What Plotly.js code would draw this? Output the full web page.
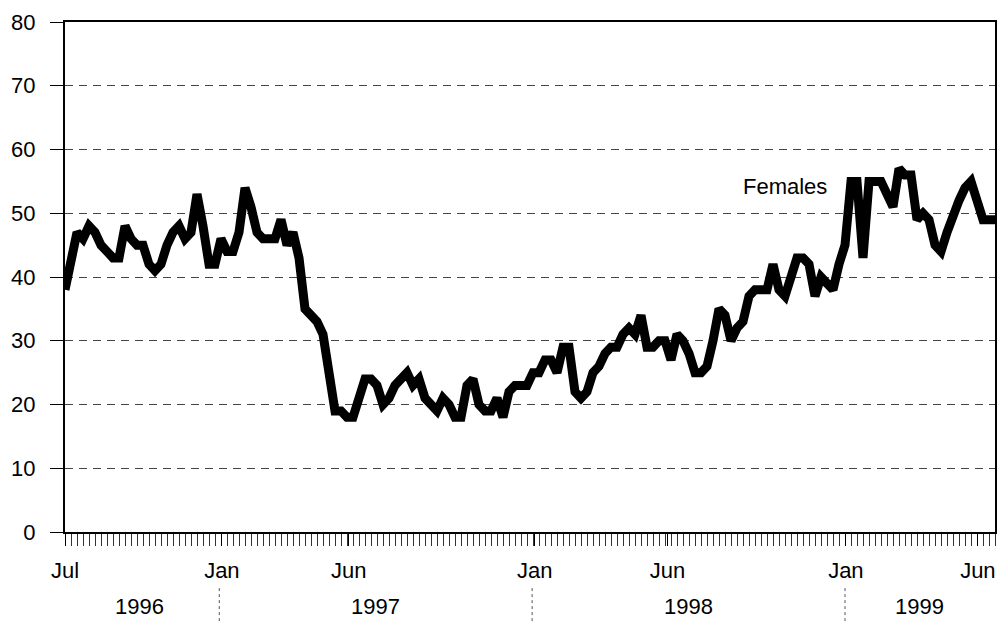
<!DOCTYPE html>
<html>
<head>
<meta charset="utf-8">
<script src="https://cdn.plot.ly/plotly-3.0.1.min.js"></script>
<style>
  html, body { margin: 0; padding: 0; background: #fff; }
  #chart { width: 1002px; height: 622px; }
</style>
</head>
<body>
<div id="chart"></div>
<script>
// Weekly series, first week ending 1996-07-05
const firstWeek = '1996-07-05';
const females = [
  38, 43, 47, 46, 48, 47, 45, 44, 43, 43,
  48, 46, 45, 45, 42, 41, 42, 45, 47, 48,
  46, 47, 53, 48, 42, 42, 46, 44, 44, 47,
  54, 51, 47, 46, 46, 46, 49, 45, 47, 43,
  35, 34, 33, 31, 25, 19, 19, 18, 18, 21,
  24, 24, 23, 20, 21, 23, 24, 25, 23, 24,
  21, 20, 19, 21, 20, 18, 18, 23, 24, 20,
  19, 19, 21, 18, 22, 23, 23, 23, 25, 25,
  27, 27, 25, 29, 29, 22, 21, 22, 25, 26,
  28, 29, 29, 31, 32, 31, 34, 29, 29, 30,
  30, 27, 31, 30, 28, 25, 25, 26, 30, 35,
  34, 30, 32, 33, 37, 38, 38, 38, 42, 38,
  37, 40, 43, 43, 42, 37, 40, 39, 38, 42,
  45, 55, 55, 43, 55, 55, 55, 53, 51, 57,
  56, 56, 49, 50, 49, 45, 44, 47, 50, 52,
  54, 55, 52, 49, 49, 49
];
const seriesName = 'Females';

const monthTickDates = ['1996-07-05', '1997-01-04', '1997-06-01', '1998-01-04', '1998-06-08', '1999-01-02', '1999-06-05'];
const monthTickLabels = ['Jul', 'Jan', 'Jun', 'Jan', 'Jun', 'Jan', 'Jun'];
const yearLabels = ['1996', '1997', '1998', '1999'];
const yearCenters = ['1996-09-30', '1997-07-02', '1998-07-02', '1999-03-29'];
const yearBoundaries = ['1997-01-01', '1998-01-01', '1999-01-01'];

const WEEK_MS = 7 * 24 * 3600 * 1000;
const FONT = 'Liberation Sans, Arial, sans-serif';

const trace = {
  type: 'scatter',
  mode: 'lines',
  name: seriesName,
  x0: firstWeek,
  dx: WEEK_MS,
  y: females,
  line: { color: '#000', width: 9, shape: 'linear' },
  hoverinfo: 'x+y'
};

const annotations = yearLabels.map((t, i) => ({
  text: t, x: yearCenters[i], xref: 'x', y: -0.147, yref: 'paper',
  showarrow: false, font: { family: FONT, size: 22, color: '#000' },
  xanchor: 'center', yanchor: 'middle'
}));
annotations.push({
  text: seriesName, x: 0.774, xref: 'paper', y: 0.678, yref: 'paper',
  showarrow: false, font: { family: FONT, size: 22, color: '#000' },
  xanchor: 'center', yanchor: 'middle'
});

const shapes = yearBoundaries.map(d => ({
  type: 'line', xref: 'x', yref: 'paper', x0: d, x1: d, y0: -0.11, y1: -0.18,
  line: { color: '#555', width: 1, dash: 'dot' }
}));

const layout = {
  width: 1002, height: 622,
  margin: { l: 65, r: 7, t: 22, b: 90 },
  paper_bgcolor: '#fff', plot_bgcolor: '#fff',
  showlegend: false,
  font: { family: FONT, size: 22, color: '#000' },
  xaxis: {
    type: 'date',
    range: ['1996-07-05', '1999-06-25'],
    tickmode: 'array',
    tickvals: monthTickDates,
    ticktext: monthTickLabels,
    ticks: 'outside', ticklen: 12, tickwidth: 1, tickcolor: '#000',
    ticklabelstandoff: 6,
    minor: { ticks: 'outside', ticklen: 12, tickwidth: 1, tickcolor: '#333',
             tick0: firstWeek, dtick: WEEK_MS, showgrid: false },
    showgrid: false, zeroline: false,
    showline: true, linecolor: '#000', linewidth: 2, mirror: true,
    tickfont: { family: FONT, size: 22, color: '#000' },
    fixedrange: true
  },
  yaxis: {
    range: [0, 80], dtick: 10, tick0: 0,
    ticks: 'outside', ticklen: 13, tickwidth: 1, tickcolor: '#000',
    ticklabelstandoff: 10,
    showgrid: true, gridcolor: '#444', gridwidth: 1, griddash: '8px,6px',
    zeroline: false,
    showline: true, linecolor: '#000', linewidth: 2, mirror: true,
    tickfont: { family: FONT, size: 22, color: '#000' },
    fixedrange: true
  },
  annotations: annotations,
  shapes: shapes
};

Plotly.newPlot('chart', [trace], layout, { displayModeBar: false, staticPlot: true });
</script>
</body>
</html>
